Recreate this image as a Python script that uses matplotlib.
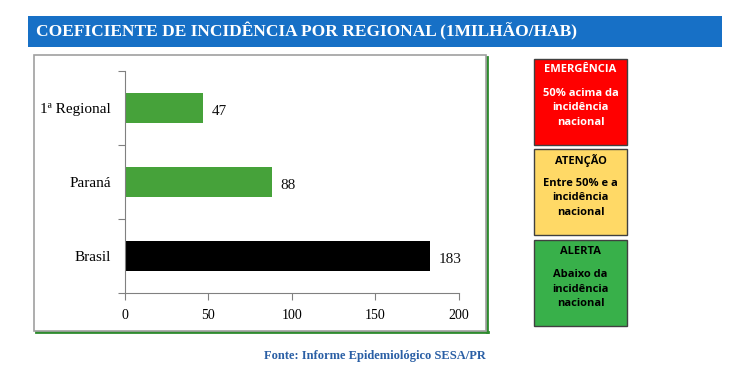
import matplotlib
matplotlib.use("Agg")
import matplotlib.pyplot as plt
import matplotlib.patches as mpatches
from matplotlib.lines import Line2D

# data
categories = ["Brasil", "Paraná", "1ª Regional"]
values     = [183, 88, 47]
bar_colors = ["#000000", "#46a23a", "#46a23a"]
x_ticks    = [0, 50, 100, 150, 200]

title  = "COEFICIENTE DE INCIDÊNCIA POR REGIONAL (1MILHÃO/HAB)"
source = "Fonte: Informe Epidemiológico SESA/PR"

legend_titles = ["EMERGÊNCIA", "ATENÇÃO", "ALERTA"]
legend_texts  = ["50% acima da\nincidência\nnacional",
                 "Entre 50% e a\nincidência\nnacional",
                 "Abaixo da\nincidência\nnacional"]
legend_fill   = ["#ff0000", "#ffd966", "#38b04a"]
legend_ink    = ["white", "black", "black"]

W, H = 750, 375
SERIF = ["Liberation Serif", "DejaVu Serif"]
SANS = ["Open Sans", "DejaVu Sans"]


def fx(px):
    return px / W


def fy(py):
    return 1 - py / H


fig = plt.figure(figsize=(7.5, 3.75), dpi=100, facecolor="white")

# ── title bar ─────────────────────────────────────────────
fig.patches.append(mpatches.Rectangle(
    (fx(28), fy(47)), fx(722) - fx(28), fy(16) - fy(47),
    transform=fig.transFigure, facecolor="#1770c6", edgecolor="none", zorder=-2))
fig.text(fx(36), fy(31.5), title, color="white", fontsize=12.5,
         fontweight="bold", family=SERIF, va="center", ha="left")

# ── chart frame (green shadow + gray border) ──────────────
fig.add_artist(Line2D([fx(487), fx(487)], [fy(57), fy(332)],
                      color="#2e8b2e", lw=2, transform=fig.transFigure, zorder=-2))
fig.add_artist(Line2D([fx(36), fx(488)], [fy(332), fy(332)],
                      color="#2e8b2e", lw=2, transform=fig.transFigure, zorder=-2))
fig.patches.append(mpatches.Rectangle(
    (fx(34), fy(331)), fx(486) - fx(34), fy(55) - fy(331),
    transform=fig.transFigure, facecolor="white", edgecolor="#a0a0a0", lw=1.2,
    zorder=-1))

# ── bar chart ─────────────────────────────────────────────
ax = fig.add_axes([fx(125), fy(293.3), fx(458.7) - fx(125), fy(70.7) - fy(293.3)])
ax.set_zorder(2)
ax.set_facecolor("none")
ypos = range(len(categories))
ax.barh(ypos, values, height=0.4, color=bar_colors)
for y, v in zip(ypos, values):
    ax.text(v + 5, y - 0.05, str(v), va="center", ha="left",
            fontsize=11, family=SERIF, color="#111111")

ax.set_xlim(0, 200)
ax.set_ylim(-0.5, len(categories) - 0.5)
ax.set_xticks(x_ticks)
ax.set_xticklabels([str(t) for t in x_ticks], family=SERIF, fontsize=10)
ax.set_yticks([y + 0.5 for y in range(-1, len(categories))])
ax.set_yticklabels([])
ax.set_yticks(list(ypos), minor=True)
ax.set_yticklabels(categories, minor=True, family=SERIF, fontsize=11)
ax.tick_params(axis="y", which="minor", length=0, pad=10)
ax.tick_params(axis="y", which="major", length=5, color="#808080")
ax.tick_params(axis="x", length=5, color="#808080", pad=6)
for s in ["top", "right"]:
    ax.spines[s].set_visible(False)
for s in ["left", "bottom"]:
    ax.spines[s].set_color("#808080")

# ── severity legend boxes ─────────────────────────────────
box_tops = [59, 149, 240]
box_h = 86
for top, head, body, fill, ink in zip(box_tops, legend_titles, legend_texts,
                                      legend_fill, legend_ink):
    fig.patches.append(mpatches.Rectangle(
        (fx(534), fy(top + box_h)), fx(627) - fx(534), fy(top) - fy(top + box_h),
        transform=fig.transFigure, facecolor=fill, edgecolor="#404040", lw=1,
        zorder=-1))
    fig.text(fx(580.5), fy(top + 11), head, color=ink, fontsize=8,
             fontweight="bold", ha="center", va="center", family=SANS)
    fig.text(fx(580.5), fy(top + 49), body, color=ink, fontsize=8,
             fontweight="bold", ha="center", va="center", linespacing=1.45,
             family=SANS)

# ── source ────────────────────────────────────────────────
fig.text(fx(375), fy(355.5), source, color="#2a5fa5", fontsize=9,
         fontweight="bold", ha="center", va="center", family=SERIF)

fig.savefig("out.png", dpi=100, facecolor="white")
